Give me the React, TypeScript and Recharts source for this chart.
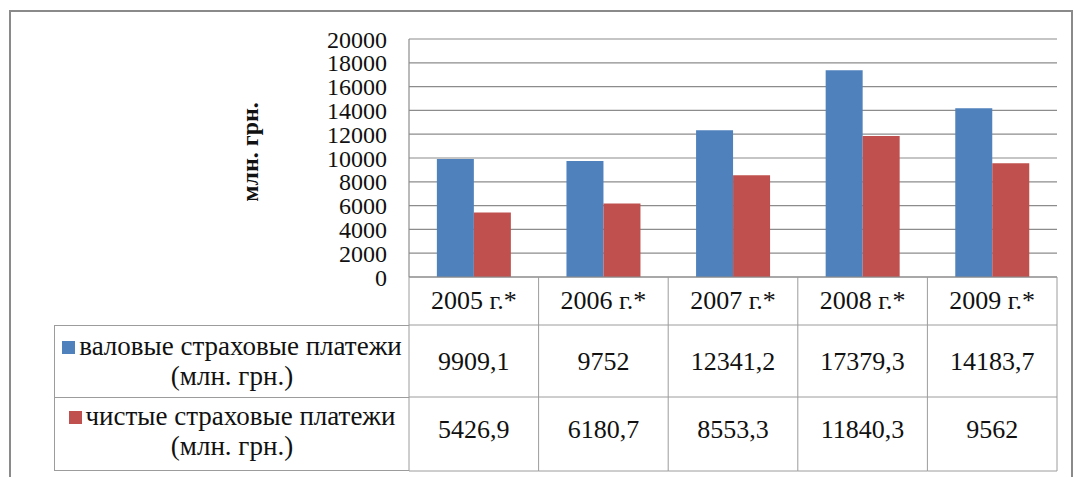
import { BarChart, Bar, XAxis, YAxis, CartesianGrid, Legend } from "recharts";

const years = ["2005 г.*", "2006 г.*", "2007 г.*", "2008 г.*", "2009 г.*"];
const grossPayments = [9909.1, 9752, 12341.2, 17379.3, 14183.7];
const netPayments = [5426.9, 6180.7, 8553.3, 11840.3, 9562];
const yTicks = [0, 2000, 4000, 6000, 8000, 10000, 12000, 14000, 16000, 18000, 20000];
const grossName = "валовые страховые платежи (млн. грн.)";
const netName = "чистые страховые платежи (млн. грн.)";
const yLabel = "млн. грн.";

const data = years.map((year, i) => ({
  year,
  gross: grossPayments[i],
  net: netPayments[i],
}));

// layout
const W = 1073;
const H = 477;
const PLOT_LEFT = 409;
const PLOT_RIGHT = 1057;
const PLOT_TOP = 39;
const AXIS_Y = 277;
const HEADER_BOTTOM = 325;
const ROW1_BOTTOM = 397;
const ROW2_BOTTOM = 471;
const TABLE_LEFT = 54;
const CELL_W = (PLOT_RIGHT - PLOT_LEFT) / years.length;

const FONT = "Liberation Serif, DejaVu Serif, Times New Roman, serif";
const LINE = "#9c9c9c";
const GRID = "#8c8c8c";
const TEXT = "#111";

const fmt = (v: number) => String(v).replace(".", ",");

function TableColumn(props: any) {
  const { x, payload } = props;
  const i: number = payload.index ?? props.index;
  const left = x - CELL_W / 2;
  const right = x + CELL_W / 2;
  const textProps = {
    x,
    textAnchor: "middle" as const,
    fontFamily: FONT,
    fontSize: 26,
    fill: TEXT,
    dy: "0.35em",
  };
  return (
    <g>
      {i === 0 && <line x1={left} x2={left} y1={AXIS_Y} y2={ROW2_BOTTOM} stroke={LINE} />}
      <line x1={right} x2={right} y1={AXIS_Y} y2={ROW2_BOTTOM} stroke={LINE} />
      <line x1={left} x2={right} y1={HEADER_BOTTOM} y2={HEADER_BOTTOM} stroke={LINE} />
      <line x1={left} x2={right} y1={ROW1_BOTTOM} y2={ROW1_BOTTOM} stroke={LINE} />
      <line x1={left} x2={right} y1={ROW2_BOTTOM} y2={ROW2_BOTTOM} stroke={LINE} />
      <text {...textProps} y={(AXIS_Y + HEADER_BOTTOM) / 2 - 1}>{payload.value}</text>
      <text {...textProps} y={(HEADER_BOTTOM + ROW1_BOTTOM) / 2}>{fmt(grossPayments[i])}</text>
      <text {...textProps} y={(ROW1_BOTTOM + ROW2_BOTTOM) / 2 - 5}>{fmt(netPayments[i])}</text>
    </g>
  );
}

function LegendTable(props: any) {
  const payload = props.payload || [];
  const heights = [ROW1_BOTTOM - HEADER_BOTTOM, ROW2_BOTTOM - ROW1_BOTTOM];
  return (
    <div
      style={{
        width: PLOT_LEFT - TABLE_LEFT,
        borderLeft: `1px solid ${LINE}`,
        boxSizing: "border-box",
        fontFamily: FONT,
        fontSize: 27,
        color: TEXT,
      }}
    >
      {payload.map((entry: any, i: number) => {
        const name = String(entry.value);
        const cut = name.indexOf(" (");
        return (
          <div
            key={name}
            style={{
              height: heights[i],
              borderTop: `1px solid ${LINE}`,
              borderBottom: i === payload.length - 1 ? `1px solid ${LINE}` : undefined,
              boxSizing: "border-box",
              display: "flex",
              flexDirection: "column",
              alignItems: "center",
              justifyContent: "center",
              lineHeight: "30px",
              textAlign: "center",
              paddingBottom: i === 0 ? 2 : 6,
            }}
          >
            <div style={{ whiteSpace: "nowrap" }}>
              <span
                style={{
                  display: "inline-block",
                  width: 13,
                  height: 13,
                  background: entry.color,
                  marginRight: 4,
                  verticalAlign: "1px",
                }}
              />
              {name.slice(0, cut)}
            </div>
            <div>{name.slice(cut + 1)}</div>
          </div>
        );
      })}
    </div>
  );
}

export default function App() {
  return (
    <div
      style={{
        position: "absolute",
        left: 0,
        top: 0,
        width: W,
        height: H,
        background: "#fff",
        overflow: "hidden",
      }}
    >
      <div
        style={{
          position: "absolute",
          left: 9,
          top: 10,
          width: W - 9,
          height: H + 10,
          border: "2px solid #8a8a8a",
          boxSizing: "border-box",
        }}
      />
      <BarChart
        width={W}
        height={H}
        data={data}
        margin={{ top: PLOT_TOP, right: W - PLOT_RIGHT, bottom: 0, left: 0 }}
        barGap={0}
        barCategoryGap="21.5%"
        style={{ position: "absolute", left: 0, top: 0 }}
      >
        <CartesianGrid vertical={false} stroke={GRID} strokeWidth={1.2} />
        <XAxis
          dataKey="year"
          height={H - AXIS_Y}
          interval={0}
          tickLine={false}
          tickSize={0}
          tickMargin={0}
          axisLine={{ stroke: GRID, strokeWidth: 1.2 }}
          tick={<TableColumn />}
        />
        <YAxis
          width={PLOT_LEFT}
          domain={[0, 20000]}
          ticks={yTicks}
          interval={0}
          tickLine={false}
          tickSize={0}
          tickMargin={22}
          axisLine={{ stroke: GRID, strokeWidth: 1.2 }}
          tick={{ fontFamily: FONT, fontSize: 24, fill: TEXT }}
          label={{
            content: () => (
              <text
                x={250}
                y={152}
                transform="rotate(-90, 250, 152)"
                textAnchor="middle"
                dy="0.35em"
                fontFamily={FONT}
                fontSize={24}
                fontWeight="bold"
                fill={TEXT}
              >
                {yLabel}
              </text>
            ),
          }}
        />
        <Legend
          layout="horizontal"
          verticalAlign="middle"
          align="center"
          wrapperStyle={{
            left: TABLE_LEFT,
            top: HEADER_BOTTOM,
            width: PLOT_LEFT - TABLE_LEFT,
            height: ROW2_BOTTOM - HEADER_BOTTOM,
          }}
          content={<LegendTable />}
        />
        <Bar dataKey="gross" name={grossName} fill="#4F81BD" isAnimationActive={false} />
        <Bar dataKey="net" name={netName} fill="#C0504D" isAnimationActive={false} />
      </BarChart>
    </div>
  );
}
